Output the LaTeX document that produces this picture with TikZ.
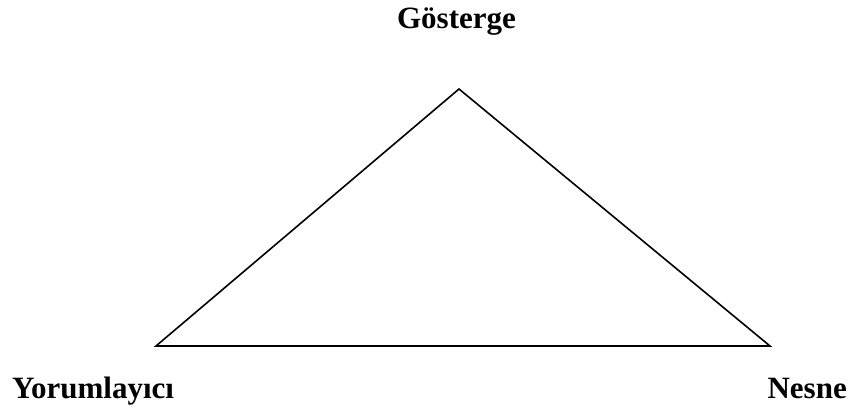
\documentclass[tikz,border=0pt]{standalone}
\usepackage{fontspec}
\setmainfont{Liberation Serif}
\begin{document}
\begin{tikzpicture}[x=1pt,y=-1pt,
  lbl/.style={font=\fontsize{31}{36}\selectfont\bfseries, inner sep=0pt},
  edge/.style={line width=1.6pt, line join=miter}]
\useasboundingbox (0,0) rectangle (849,410);
\coordinate (top) at (459,89);
\coordinate (left) at (156,346);
\coordinate (right) at (770,346);
\draw[edge] (top) -- (right) -- (left) -- cycle;
\node[lbl, anchor=base] (g) at (456.5,28) {Gösterge};
\node[lbl, anchor=base west] (y) at (12,398) {Yorumlayıcı};
\node[lbl, anchor=base east] (n) at (847,398) {Nesne};
\end{tikzpicture}
\end{document}
